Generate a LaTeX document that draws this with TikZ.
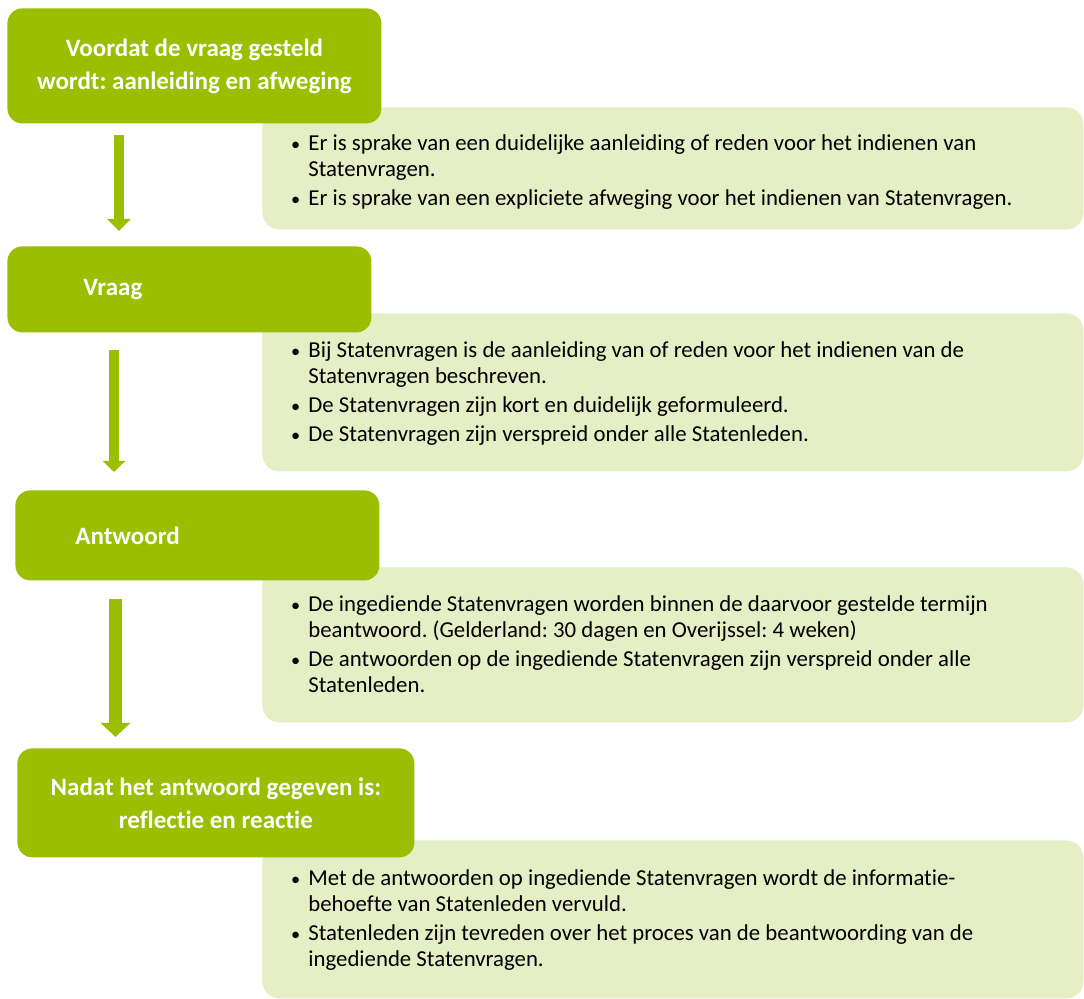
\documentclass[tikz,border=0pt]{standalone}
\usepackage{fontspec}
\setmainfont[Ligatures={NoCommon}]{Carlito}
\usetikzlibrary{arrows.meta}
\frenchspacing
\definecolor{dgreen}{RGB}{155,190,0}
\definecolor{lgreen}{RGB}{229,238,196}
\newcommand{\bl}[1]{\makebox[9pt][l]{\hspace{0.3pt}\scalebox{0.8}{\textbullet}}#1}
\newcommand{\ct}[1]{\hspace*{9pt}#1}
\begin{document}
\begin{tikzpicture}[x=0.5pt,y=-0.5pt,
  hd/.style={fill=dgreen, rounded corners=7.5pt, text=white,
    font=\fontsize{12.5}{16.5}\selectfont\bfseries, anchor=north west, inner sep=0pt},
  lt/.style={fill=lgreen, rounded corners=8.5pt, anchor=north west, inner sep=0pt,
    minimum width=410.5pt},
  bt/.style={anchor=base west, inner sep=0pt},
  arr/.style={draw=dgreen, line width=5pt, -{Triangle[width=11.5pt,length=6pt]}}]
\useasboundingbox (0,0) rectangle (1084,999);
% light boxes
\node[lt, minimum height=61pt] (l1) at (262,107) {};
\node[lt, minimum height=79pt] (l2) at (262,313) {};
\node[lt, minimum height=77.5pt] (l3) at (262,567) {};
\node[lt, minimum height=79pt] (l4) at (262,840) {};
% dark boxes
\node[hd, minimum width=187pt, minimum height=57.5pt, align=center] (b1) at (7,8)
  {Voordat de vraag gesteld\\wordt: aanleiding en afweging};
\node[hd, minimum height=43pt, inner xsep=38pt, text width=106pt, align=left] (b2) at (7,246) {Vraag};
\node[hd, minimum height=45pt, inner xsep=30pt, text width=122pt, align=left] (b3) at (15,490) {Antwoord};
\node[hd, minimum width=198.5pt, minimum height=54.5pt, align=center] (b4) at (17,748)
  {Nadat het antwoord gegeven is:\\reflectie en reactie};
% arrows
\coordinate (a1s) at (119,135); \coordinate (a1e) at (119,231);
\coordinate (a2s) at (114,350); \coordinate (a2e) at (114,472);
\coordinate (a3s) at (115.5,599); \coordinate (a3e) at (115.5,737);
\draw[arr] (a1s) -- (a1e);
\draw[arr, -{Triangle[width=11pt,length=5.5pt]}] (a2s) -- (a2e);
\draw[arr, line width=6.5pt, -{Triangle[width=14.5pt,length=7pt]}] (a3s) -- (a3e);
% texts
\node[bt] (t1) at (290,151) {\parbox[t]{395pt}{\fontsize{11.4}{13}\selectfont
  \bl{Er is sprake van een duidelijke aanleiding of reden voor het indienen van}\\
  \ct{Statenvragen.}\\[1.5pt]
  \bl{Er is sprake van een expliciete afweging voor het indienen van Statenvragen.}}};
\node[bt] (t2) at (290,358) {\parbox[t]{395pt}{\fontsize{11.4}{13}\selectfont
  \bl{Bij Statenvragen is de aanleiding van of reden voor het indienen van de}\\
  \ct{Statenvragen beschreven.}\\[1.5pt]
  \bl{De Statenvragen zijn kort en duidelijk geformuleerd.}\\[1.5pt]
  \bl{De Statenvragen zijn verspreid onder alle Statenleden.}}};
\node[bt] (t3) at (290,612) {\parbox[t]{395pt}{\fontsize{11.4}{13}\selectfont
  \bl{De ingediende Statenvragen worden binnen de daarvoor gestelde termijn}\\
  \ct{beantwoord. (Gelderland: 30 dagen en Overijssel: 4 weken)}\\[1.5pt]
  \bl{De antwoorden op de ingediende Statenvragen zijn verspreid onder alle}\\
  \ct{Statenleden.}}};
\node[bt] (t4) at (290,886) {\parbox[t]{395pt}{\fontsize{11.4}{13}\selectfont
  \bl{Met de antwoorden op ingediende Statenvragen wordt de informatie-}\\
  \ct{behoefte van Statenleden vervuld.}\\[1.5pt]
  \bl{Statenleden zijn tevreden over het proces van de beantwoording van de}\\
  \ct{ingediende Statenvragen.}}};
\end{tikzpicture}
\end{document}
